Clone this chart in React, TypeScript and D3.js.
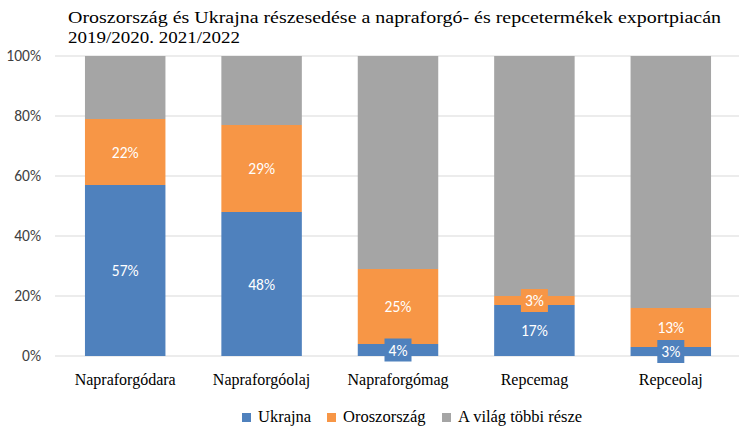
import React from "react";
import * as d3 from "d3";

const categories = ["Napraforgódara", "Napraforgóolaj", "Napraforgómag", "Repcemag", "Repceolaj"];
const ukrajna = [57, 48, 4, 17, 3];
const oroszorszag = [22, 29, 25, 3, 13];
const vilag = [21, 23, 71, 80, 84];
const seriesNames = ["Ukrajna", "Oroszország", "A világ többi része"];
const seriesColors = ["#4f81bd", "#f79646", "#a5a5a5"];
const yTicks = [0, 20, 40, 60, 80, 100];
const titleLines = [
  "Oroszország és Ukrajna részesedése a napraforgó- és repcetermékek exportpiacán",
  "2019/2020. 2021/2022",
];

const W = 750;
const H = 438;
const plotLeft = 57;
const plotRight = 739;
const plotTop = 56;
const plotBottom = 356;

export default function App() {
  const x = d3.scaleBand<string>().domain(categories).range([plotLeft, plotRight]).paddingInner(0.41).paddingOuter(0.205);
  const y = d3.scaleLinear().domain([0, 100]).range([plotBottom, plotTop]);
  const data = categories.map((c, i) => ({ cat: c, u: ukrajna[i], o: oroszorszag[i], v: vilag[i] }));
  const stack = d3.stack<any>().keys(["u", "o", "v"]);
  const layers = stack(data);
  const labelFont = "Carlito, 'Open Sans', 'DejaVu Sans', sans-serif";
  const serif = "'Liberation Serif', 'Noto Serif', 'DejaVu Serif', FreeSerif, 'Nimbus Roman', Tinos, Times, Georgia, serif";
  const serifStyle = { fontFamily: serif };
  const titleWidths = [653, 172];

  return (
    <svg width={W} height={H} style={{ position: "absolute", left: 0, top: 0 }}>
      <rect width={W} height={H} fill="#fff" />
      {titleLines.map((t, i) => (
        <text
          key={i}
          x={68}
          y={23 + i * 20}
          style={serifStyle}
          fontSize={17.5}
          fill="#000"
          textLength={titleWidths[i]}
          lengthAdjust="spacingAndGlyphs"
        >
          {t}
        </text>
      ))}
      {yTicks.map((t) => (
        <g key={t}>
          <line x1={55} x2={plotRight} y1={y(t)} y2={y(t)} stroke="#d9d9d9" strokeWidth={1} />
          <text x={41} y={y(t)} dy="0.35em" textAnchor="end" style={{ fontFamily: labelFont }} fontSize={15.5} fill="#404040">
            {t}%
          </text>
        </g>
      ))}
      {layers.map((layer, li) => (
        <g key={li}>
          {layer.map((d, i) => (
            <rect
              key={i}
              x={x(categories[i])}
              width={x.bandwidth()}
              y={y(d[1])}
              height={y(d[0]) - y(d[1])}
              fill={seriesColors[li]}
            />
          ))}
        </g>
      ))}
      {layers.slice(0, 2).map((layer, li) => (
        <g key={"l" + li}>
          {layer.map((d, i) => {
            const val = d[1] - d[0];
            const cx = (x(categories[i]) as number) + x.bandwidth() / 2;
            const cy = (y(d[0]) + y(d[1])) / 2;
            const small = val < 6;
            return (
              <g key={i}>
                {small && <rect x={cx - 13.5} y={cy - 11.5} width={27} height={23} fill={seriesColors[li]} />}
                <text x={cx} y={cy} dy="0.36em" textAnchor="middle" style={{ fontFamily: labelFont }} fontSize={15.5} fill="#fff">
                  {val}%
                </text>
              </g>
            );
          })}
        </g>
      ))}
      {categories.map((c) => (
        <text key={c} x={(x(c) as number) + x.bandwidth() / 2} y={385} textAnchor="middle" style={serifStyle} fontSize={16} fill="#000">
          {c}
        </text>
      ))}
      {(() => {
        const items = [242, 327, 442];
        return seriesNames.map((n, i) => (
          <g key={n}>
            <rect x={items[i]} y={413} width={9} height={9} fill={seriesColors[i]} />
            <text x={items[i] + 16} y={422} style={serifStyle} fontSize={16.5} fill="#000">
              {n}
            </text>
          </g>
        ));
      })()}
    </svg>
  );
}
